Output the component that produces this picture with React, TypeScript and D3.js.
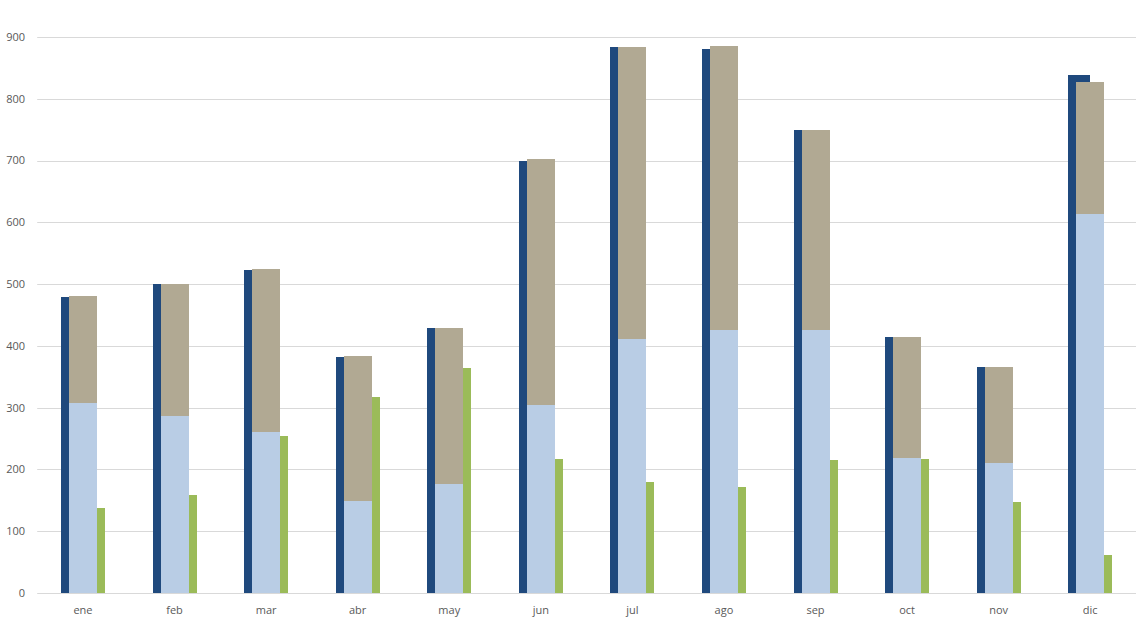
import React from "react";
import * as d3 from "d3";

const months = ["ene", "feb", "mar", "abr", "may", "jun", "jul", "ago", "sep", "oct", "nov", "dic"];
const darkSeries = [479, 500, 523, 382, 429, 699, 884, 880, 749, 414, 366, 838];
const lightSeries = [308, 287, 261, 149, 176, 304, 411, 426, 426, 218, 210, 613];
const tanSeries = [173, 213, 263, 235, 253, 398, 473, 460, 323, 196, 156, 214];
const greenSeries = [138, 159, 254, 317, 364, 217, 180, 172, 215, 217, 147, 62];
const yTicks = [0, 100, 200, 300, 400, 500, 600, 700, 800, 900];

const W = 1137;
const H = 625;
const left = 37.2;
const right = 1136;
const top = 37;
const bottom = 593;

export default function App() {
  const x = d3.scaleBand<string>().domain(months).range([left, right]).padding(0);
  const y = d3.scaleLinear().domain([0, 900]).range([bottom, top]);
  const font = "'Open Sans', 'Liberation Sans', sans-serif";
  return (
    <svg width={W} height={H} style={{ position: "absolute", left: 0, top: 0, background: "#fff" }}>
      {yTicks.map((t) => (
        <g key={t}>
          <line x1={left} x2={right} y1={Math.round(y(t)) + 0.5} y2={Math.round(y(t)) + 0.5} stroke="#D9D9D9" strokeWidth={1} />
          <text x={25} y={y(t)} dy="0.35em" textAnchor="end" fontSize={11} fill="#595959" fontFamily={font}>
            {t}
          </text>
        </g>
      ))}
      <g shapeRendering="crispEdges">
        {months.map((m, i) => {
          const c = (x(m) as number) + x.bandwidth() / 2;
          return (
            <g key={m}>
              <rect x={c - 22} width={22} y={y(darkSeries[i])} height={bottom - y(darkSeries[i])} fill="#1F497D" />
              <rect x={c} width={22} y={y(greenSeries[i])} height={bottom - y(greenSeries[i])} fill="#9BBB59" />
              <rect x={c - 14} width={28} y={y(lightSeries[i])} height={bottom - y(lightSeries[i])} fill="#B9CDE5" />
              <rect
                x={c - 14}
                width={28}
                y={y(lightSeries[i] + tanSeries[i])}
                height={y(lightSeries[i]) - y(lightSeries[i] + tanSeries[i])}
                fill="#B1A993"
              />
            </g>
          );
        })}
      </g>
      {months.map((m) => {
        const c = (x(m) as number) + x.bandwidth() / 2;
        return (
          <text key={m} x={c} y={614} textAnchor="middle" fontSize={11} fill="#595959" fontFamily={font}>
            {m}
          </text>
        );
      })}
    </svg>
  );
}
